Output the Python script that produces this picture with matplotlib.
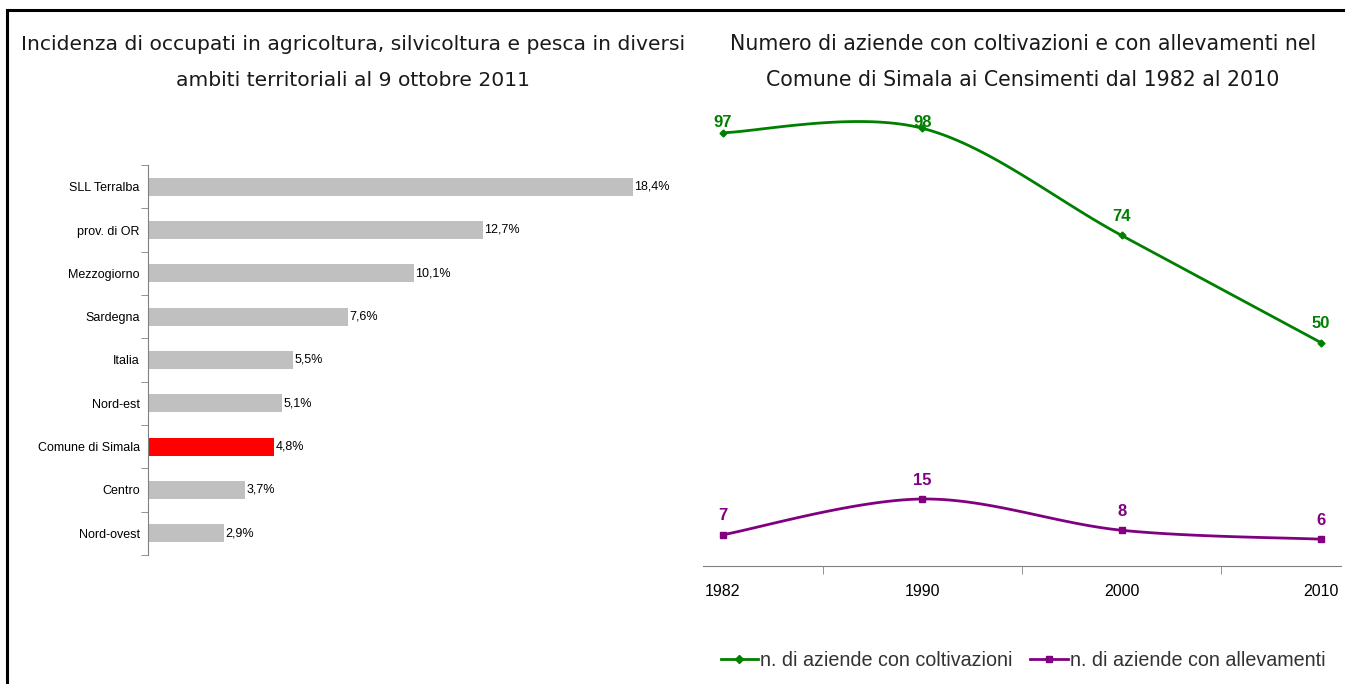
import numpy as np
import matplotlib.pyplot as plt
from matplotlib.lines import Line2D

# --- data ---
ambiti = ["SLL Terralba", "prov. di OR", "Mezzogiorno", "Sardegna", "Italia",
          "Nord-est", "Comune di Simala", "Centro", "Nord-ovest"]
incidenza = [18.4, 12.7, 10.1, 7.6, 5.5, 5.1, 4.8, 3.7, 2.9]
evidenza = "Comune di Simala"

anni = ["1982", "1990", "2000", "2010"]
coltivazioni = [97, 98, 74, 50]
allevamenti = [7, 15, 8, 6]

GREEN = "#008000"
PURPLE = "#800080"
TITLE_FONT = ["DejaVu Sans"]
plt.rcParams["font.family"] = ["Liberation Sans", "DejaVu Sans"]


def smooth(xs, ys, n=40):
    # excel-like smoothed line (catmull-rom through the points)
    xs = np.asarray(xs, float)
    ys = np.asarray(ys, float)
    px = np.concatenate([[xs[0]], xs, [xs[-1]]])
    py = np.concatenate([[ys[0]], ys, [ys[-1]]])
    ox, oy = [], []
    for i in range(1, len(px) - 2):
        t = np.linspace(0, 1, n)
        for p, out in ((px, ox), (py, oy)):
            p0, p1, p2, p3 = p[i - 1], p[i], p[i + 1], p[i + 2]
            c1 = p1 + (p2 - p0) / 6
            c2 = p2 - (p3 - p1) / 6
            out.extend((1 - t) ** 3 * p1 + 3 * (1 - t) ** 2 * t * c1
                       + 3 * (1 - t) * t ** 2 * c2 + t ** 3 * p2)
    return np.array(ox), np.array(oy)


fig = plt.figure(figsize=(13.45, 6.84), dpi=100)

# frame lines of the page
fig.add_artist(Line2D([7 / 1345, 1], [1 - 10 / 684, 1 - 10 / 684], color="black", lw=2.2))
fig.add_artist(Line2D([7 / 1345, 7 / 1345], [0, 1 - 10 / 684], color="black", lw=2.2))

# --- left: bar chart ---
ax1 = fig.add_axes([148 / 1345, 129 / 684, 527 / 1345, 390 / 684])
ypos = np.arange(len(ambiti))
colori = ["#FF0000" if a == evidenza else "#C0C0C0" for a in ambiti]
ax1.barh(ypos, incidenza, height=0.42, color=colori)
for y, v in zip(ypos, incidenza):
    ax1.text(v + 0.05, y, f"{v:.1f}%".replace(".", ","), va="center", ha="left", fontsize=9)
ax1.set_ylim(len(ambiti) - 0.5, -0.5)
ax1.set_xlim(0, 20)
ax1.set_yticks(ypos)
ax1.set_yticklabels(ambiti, fontsize=9)
ax1.set_yticks(np.arange(len(ambiti) + 1) - 0.5, minor=True)
ax1.tick_params(axis="y", which="major", length=0, pad=6)
ax1.tick_params(axis="y", which="minor", length=5, color="#808080", direction="out")
ax1.set_xticks([])
for s in ["top", "right", "bottom"]:
    ax1.spines[s].set_visible(False)
ax1.spines["left"].set_color("#808080")

fig.text(353 / 1345, 1 - 44 / 684,
         "Incidenza di occupati in agricoltura, silvicoltura e pesca in diversi",
         ha="center", va="center", fontsize=14.6, family=TITLE_FONT, color="#1a1a1a")
fig.text(353 / 1345, 1 - 80 / 684, "ambiti territoriali al 9 ottobre 2011",
         ha="center", va="center", fontsize=14.6, family=TITLE_FONT, color="#1a1a1a")

# --- right: line chart ---
ax2 = fig.add_axes([703 / 1345, 118 / 684, 638 / 1345, 469 / 684])
x = np.arange(len(anni))
sx, sy = smooth(x, coltivazioni)
ax2.plot(sx, sy, color=GREEN, lw=2)
ax2.plot(x, coltivazioni, ls="none", marker="D", ms=3.5, color=GREEN)
sx, sy = smooth(x, allevamenti)
ax2.plot(sx, sy, color=PURPLE, lw=2)
ax2.plot(x, allevamenti, ls="none", marker="s", ms=4.5, color=PURPLE)
# labels sit above the points, but are kept inside the plot area
for serie, col in ((coltivazioni, GREEN), (allevamenti, PURPLE)):
    for xi, v in zip(x, serie):
        ax2.text(xi, min(v + 4.25, 99.2), str(v), ha="center", va="center",
                 fontsize=12, fontweight="bold", color=col)
ax2.set_xlim(-0.1, 3.1)
ax2.set_ylim(0, 105)
ax2.set_xticks(x)
ax2.set_xticklabels(anni, fontsize=11.5)
ax2.set_xticks([0.5, 1.5, 2.5], minor=True)
ax2.tick_params(axis="x", which="major", length=0, pad=13)
ax2.tick_params(axis="x", which="minor", length=6, color="#808080", direction="out")
ax2.set_yticks([])
for s in ["top", "right", "left"]:
    ax2.spines[s].set_visible(False)
ax2.spines["bottom"].set_color("#808080")

fig.text(1023 / 1345, 1 - 44 / 684,
         "Numero di aziende con coltivazioni e con allevamenti nel",
         ha="center", va="center", fontsize=14.8, family=TITLE_FONT, color="#1a1a1a")
fig.text(1023 / 1345, 1 - 80 / 684, "Comune di Simala ai Censimenti dal 1982 al 2010",
         ha="center", va="center", fontsize=14.8, family=TITLE_FONT, color="#1a1a1a")

handles = [Line2D([], [], color=GREEN, lw=2, marker="D", ms=4),
           Line2D([], [], color=PURPLE, lw=2, marker="s", ms=5)]
fig.legend(handles, ["n. di aziende con coltivazioni", "n. di aziende con allevamenti"],
           loc="center", bbox_to_anchor=(1023 / 1345, 1 - 660 / 684), ncol=2,
           frameon=False, fontsize=14.2, handlelength=1.9, handletextpad=0.1,
           columnspacing=0.9, labelcolor="#333333")

fig.savefig("out.png", dpi=100)
